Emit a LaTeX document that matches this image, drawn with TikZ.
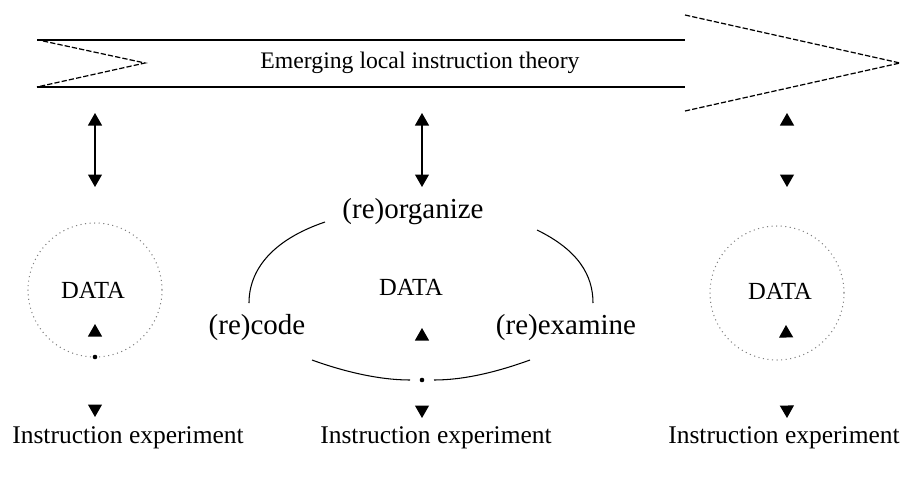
\documentclass[tikz,border=0pt]{standalone}
\usepackage{fontspec}
\setmainfont{Liberation Serif}
\usetikzlibrary{arrows.meta}
\begin{document}
\begin{tikzpicture}[x=0.02cm,y=-0.02cm,
  bandtxt/.style={inner sep=0pt,font=\fontsize{13.5}{16}\selectfont},
  datatxt/.style={inner sep=0pt,font=\fontsize{14}{16}\selectfont},
  lbl/.style={inner sep=0pt,font=\fontsize{16.5}{19}\selectfont},
  exptxt/.style={inner sep=0pt,font=\fontsize{14.5}{17}\selectfont},
  band/.style={line width=0.9pt},
  notch/.style={dash pattern=on 3pt off 1.2pt,line width=0.7pt},
  dbl/.style={line width=0.6pt,{Triangle[length=2.5mm,width=2.8mm]}-{Triangle[length=2.5mm,width=2.8mm]}},
  ghost/.style={white,line width=0.6pt,{Triangle[length=2.5mm,width=2.8mm,color=black]}-{Triangle[length=2.5mm,width=2.8mm,color=black]}},
  ring/.style={circle,draw=gray,dotted,line width=0.6pt,minimum size=2.68cm,inner sep=0pt},
  arcline/.style={line width=0.6pt}]
\useasboundingbox (0,0) rectangle (902,477);

% banner
\coordinate (bl1) at (37,40);
\coordinate (br1) at (685,40);
\coordinate (bl2) at (37,87);
\coordinate (br2) at (685,87);
\coordinate (n1) at (43,41);
\coordinate (n2) at (145,63);
\coordinate (n3) at (37,87);
\coordinate (h1) at (685,15);
\coordinate (h2) at (900,63);
\coordinate (h3) at (685,111);
\draw[band] (bl1) -- (br1);
\draw[band] (bl2) -- (br2);
\draw[notch] (n1) -- (n2) -- (n3);
\draw[notch] (h1) -- (h2) -- (h3);
\node[bandtxt] (theory) at (420,63) {Emerging local instruction theory};

% top arrows
\coordinate (ta1) at (95,113);  \coordinate (tb1) at (95,187);
\coordinate (ta2) at (422,113); \coordinate (tb2) at (422,187);
\coordinate (ta3) at (787,113); \coordinate (tb3) at (787,187);
\draw[dbl] (ta1) -- (tb1);
\draw[dbl] (ta2) -- (tb2);
\draw[ghost] (ta3) -- (tb3);

% lower ghost arrows
\coordinate (la1) at (95,324);  \coordinate (lb1) at (95,417);
\coordinate (la2) at (422,328); \coordinate (lb2) at (422,418);
\coordinate (la3) at (786,325); \coordinate (lb3) at (787,418);
\draw[ghost] (la1) -- (lb1);
\draw[ghost] (la3) -- (lb3);

% left circle
\node[ring] (c1) at (95,290) {};
\node[datatxt] (d1) at (93,290) {DATA};
\fill (95,357) circle (1.3pt);

% right circle
\node[ring] (c3) at (777,293) {};
\node[datatxt] (d3) at (780,291) {DATA};

% middle cycle
\node[lbl] (org) at (413,212) {(re)organize};
\node[lbl] (code) at (257,328) {(re)code};
\node[lbl] (exam) at (566,328) {(re)examine};
\node[datatxt] (d2) at (411,287) {DATA};
\coordinate (la) at (325,222); \coordinate (lz) at (249,303);
\coordinate (ra) at (537,230); \coordinate (rz) at (593,303);
\coordinate (ba) at (312,360); \coordinate (bz) at (530,360);
\coordinate (bg1) at (410,380); \coordinate (bg2) at (434,380);
\draw[arcline] (la) .. controls (272,240) and (249,270) .. (lz);
\draw[arcline] (ra) .. controls (578,250) and (593,275) .. (rz);
\draw[arcline] (ba) .. controls (345,372) and (380,380) .. (bg1);
\draw[arcline] (bg2) .. controls (464,380) and (497,372) .. (bz);
\draw[ghost] (la2) -- (lb2);
\fill (422,380) circle (1.3pt);

% bottom texts
\node[exptxt] (e1) at (128,438) {Instruction experiment};
\node[exptxt] (e2) at (436,438) {Instruction experiment};
\node[exptxt] (e3) at (784,438) {Instruction experiment};
\end{tikzpicture}
\end{document}
